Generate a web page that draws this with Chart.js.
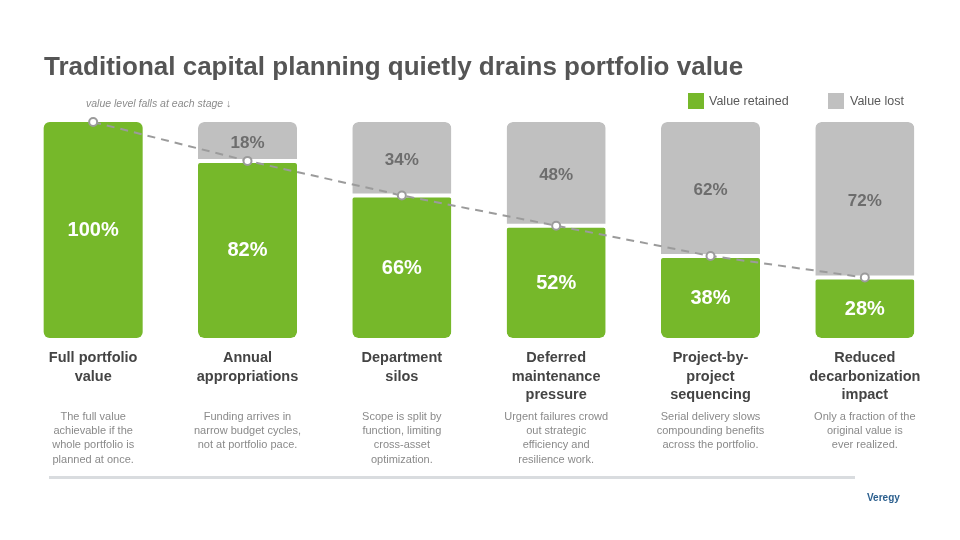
<!DOCTYPE html>
<html>
<head>
<meta charset="utf-8">
<script src="https://cdn.jsdelivr.net/npm/chart.js@4/dist/chart.umd.min.js"></script>
<style>
  html, body { margin:0; padding:0; background:#fff; }
  body { width:960px; height:540px; position:relative; overflow:hidden; font-family:"Liberation Sans", Arial, sans-serif; }
  #c { position:absolute; left:0; top:0; }
  .abs { position:absolute; white-space:nowrap; }
  #title { left:44px; top:53px; font-weight:bold; font-size:26px; line-height:26px; color:#555; }
  #note { left:86px; top:98px; font-style:italic; font-size:10.5px; line-height:10px; color:#8c8c8c; }
  .sw { position:absolute; width:16px; height:16px; top:93px; }
  .lg { top:93px; font-size:12.5px; line-height:16px; color:#595959; }
  #rule { left:49px; top:476px; width:806px; height:3px; background:#d9dcdf; }
  #brand { left:867px; top:493px; font-weight:bold; font-size:10px; line-height:10px; color:#2b5f8e; }
</style>
</head>
<body>
<canvas id="c" width="960" height="540"></canvas>
<div id="title" class="abs">Traditional capital planning quietly drains portfolio value</div>
<div id="note" class="abs">value level falls at each stage ↓</div>
<div class="sw" style="left:688px;background:#76b82a"></div>
<div class="abs lg" style="left:709px">Value retained</div>
<div class="sw" style="left:828px;background:#c0c0c0"></div>
<div class="abs lg" style="left:850px">Value lost</div>
<div id="rule" class="abs"></div>
<div id="brand" class="abs">Veregy</div>
<script>
const stages = [
  ["Full portfolio","value"],
  ["Annual","appropriations"],
  ["Department","silos"],
  ["Deferred","maintenance","pressure"],
  ["Project-by-","project","sequencing"],
  ["Reduced","decarbonization","impact"]
];
const descriptions = [
  ["The full value","achievable if the","whole portfolio is","planned at once."],
  ["Funding arrives in","narrow budget cycles,","not at portfolio pace."],
  ["Scope is split by","function, limiting","cross-asset","optimization."],
  ["Urgent failures crowd","out strategic","efficiency and","resilience work."],
  ["Serial delivery slows","compounding benefits","across the portfolio."],
  ["Only a fraction of the","original value is","ever realized."]
];
const retained = [100, 82, 66, 52, 38, 28];
const lost = [0, 18, 34, 48, 62, 72];

const GREEN = '#76b82a', GRAY = '#c0c0c0', LINE = '#9b9b9b';
const FONT = '"Liberation Sans", Arial, sans-serif';

const labelsPlugin = {
  id: 'stageLabels',
  afterDatasetsDraw(chart) {
    const { ctx, scales: { x, y } } = chart;
    ctx.save();
    ctx.textAlign = 'center';
    ctx.textBaseline = 'middle';
    retained.forEach((v, i) => {
      const cx = x.getPixelForValue(i);
      const shift = lost[i] > 0 ? 1.5 : 0;
      ctx.font = 'bold 20px ' + FONT;
      ctx.fillStyle = '#ffffff';
      ctx.fillText(v + '%', cx, (y.getPixelForValue(v) + y.getPixelForValue(0)) / 2 + shift);
      if (lost[i] > 0) {
        ctx.font = 'bold 17px ' + FONT;
        ctx.fillStyle = '#6d6d6d';
        ctx.fillText(lost[i] + '%', cx, (y.getPixelForValue(v) + y.getPixelForValue(v + lost[i])) / 2 + 1.5);
      }
    });
    ctx.restore();
  },
  afterDraw(chart) {
    const { ctx, scales: { x } } = chart;
    ctx.save();
    ctx.textAlign = 'center';
    ctx.textBaseline = 'middle';
    stages.forEach((lines, i) => {
      const cx = x.getPixelForValue(i);
      ctx.font = 'bold 14.5px ' + FONT;
      ctx.fillStyle = '#444444';
      lines.forEach((t, j) => ctx.fillText(t, cx, 358 + j * 18.6));
      ctx.font = '11px ' + FONT;
      ctx.fillStyle = '#8a8a8a';
      descriptions[i].forEach((t, j) => ctx.fillText(t, cx, 417 + j * 14.2));
    });
    ctx.restore();
  }
};

new Chart(document.getElementById('c'), {
  data: {
    labels: stages.map(s => s.join(' ')),
    datasets: [
      {
        type: 'line',
        label: 'Value level',
        data: retained,
        borderColor: LINE,
        borderWidth: 2,
        borderDash: [8, 6],
        tension: 0,
        pointRadius: 4,
        pointBackgroundColor: '#ffffff',
        pointBorderColor: LINE,
        pointBorderWidth: 2,
        clip: false,
        order: 0
      },
      {
        type: 'bar',
        label: 'Value retained',
        data: retained.map(v => [0, v]),
        backgroundColor: GREEN,
        borderColor: '#ffffff',
        borderWidth: (c) => ({ top: (lost[c.dataIndex] > 0 ? 2 : 0), left: 0, right: 0, bottom: 0 }),
        borderRadius: (c) => {
          const t = lost[c.dataIndex] > 0 ? 4 : 6;
          return { topLeft: t, topRight: t, bottomLeft: 6, bottomRight: 6 };
        },
        borderSkipped: false,
        grouped: false,
        barPercentage: 0.6415,
        categoryPercentage: 1,
        order: 1
      },
      {
        type: 'bar',
        label: 'Value lost',
        data: lost.map((l, i) => (l > 0 ? [retained[i], retained[i] + l] : null)),
        backgroundColor: GRAY,
        borderColor: '#ffffff',
        borderWidth: { top: 0, left: 0, right: 0, bottom: 2 },
        borderRadius: { topLeft: 6, topRight: 6, bottomLeft: 0, bottomRight: 0 },
        borderSkipped: false,
        grouped: false,
        barPercentage: 0.6415,
        categoryPercentage: 1,
        order: 2
      }
    ]
  },
  options: {
    responsive: false,
    animation: false,
    devicePixelRatio: 1,
    layout: { padding: { left: 16, right: 18, top: 122, bottom: 202 } },
    scales: {
      x: { display: false, offset: true },
      y: { display: false, min: 0, max: 100 }
    },
    plugins: {
      legend: { display: false },
      tooltip: { enabled: false }
    }
  },
  plugins: [labelsPlugin]
});
</script>
</body>
</html>
